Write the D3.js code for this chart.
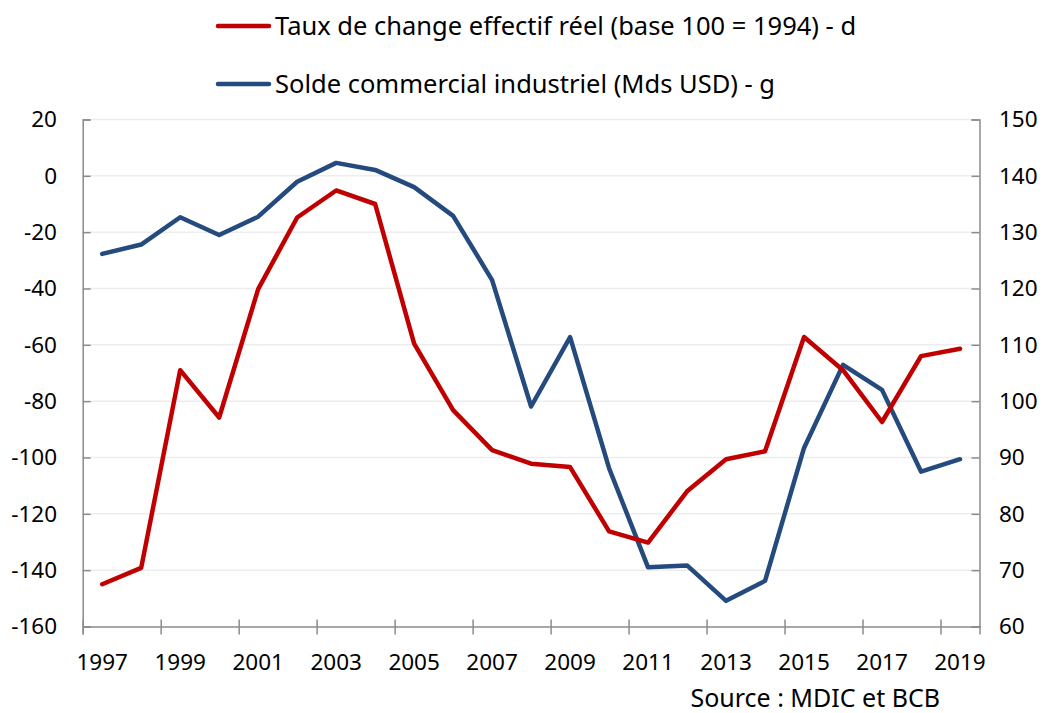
<!DOCTYPE html>
<html>
<head>
<meta charset="utf-8">
<script src="https://cdn.jsdelivr.net/npm/d3@7"></script>
<style>
  html, body { margin: 0; padding: 0; background: #fff; }
  svg { display: block; font-family: "Noto Sans", "Open Sans", sans-serif; }
</style>
</head>
<body>
<svg id="chart" width="1046" height="713"></svg>
<script>
const years = d3.range(1997, 2020).map(String);
const xTickLabels = ["1997","1999","2001","2003","2005","2007","2009","2011","2013","2015","2017","2019"];
const leftTicks = [20, 0, -20, -40, -60, -80, -100, -120, -140, -160];
const rightTicks = [150, 140, 130, 120, 110, 100, 90, 80, 70, 60];

// Solde commercial industriel (Mds USD) - left axis
const solde = [-27.7, -24.4, -14.7, -21.0, -14.5, -2.1, 4.6, 2.1, -4.0, -14.2, -37.0,
               -81.9, -57.3, -103.8, -139.0, -138.3, -150.9, -143.8, -96.6, -67.1, -76.0, -105.0, -100.6];
// Taux de change effectif réel (base 100 = 1994) - right axis
const taux = [67.5, 70.4, 105.5, 97.1, 119.9, 132.6, 137.4, 135.0, 110.2, 98.4, 91.3,
              88.9, 88.3, 76.9, 74.9, 84.0, 89.7, 91.1, 111.4, 105.5, 96.3, 108.0, 109.3];

const legendItems = [
  { label: "Taux de change effectif réel (base 100 = 1994) - d", color: "#C00000" },
  { label: "Solde commercial industriel (Mds USD) - g", color: "#254A7D" }
];
const sourceText = "Source : MDIC et BCB";

const svg = d3.select("#chart");
const pLeft = 82.7, pRight = 979.5, pTop = 119.5, pBottom = 626.5;
const axisColor = "#8C8C8C";
const fontSize = 22.5;

const x = d3.scaleBand().domain(years).range([pLeft, pRight]).padding(0);
const xb = d3.scaleLinear().domain([0, years.length]).range([pLeft, pRight]);
const yL = d3.scaleLinear().domain([-160, 20]).range([pBottom, pTop]);
const yR = d3.scaleLinear().domain([60, 150]).range([pBottom, pTop]);

// gridlines
svg.append("g").selectAll("line").data(leftTicks.filter(d => d !== -160)).join("line")
  .attr("x1", pLeft).attr("x2", pRight)
  .attr("y1", d => yL(d)).attr("y2", d => yL(d))
  .attr("stroke", "#EDEDED").attr("stroke-width", 1.5);

// left axis
const gL = svg.append("g").attr("transform", `translate(${pLeft},0)`)
  .call(d3.axisLeft(yL).tickValues(leftTicks).tickSize(-8).tickFormat(""));
gL.select(".domain").attr("stroke", axisColor).attr("stroke-width", 1.5);
gL.selectAll(".tick line").attr("stroke", axisColor).attr("stroke-width", 1.5);
svg.append("g").selectAll("text").data(leftTicks).join("text")
  .attr("x", 57).attr("y", d => yL(d)).attr("dy", "0.35em")
  .attr("text-anchor", "end").attr("font-size", fontSize).attr("fill", "#000")
  .text(d => d);

// right axis
const gR = svg.append("g").attr("transform", `translate(${pRight},0)`)
  .call(d3.axisRight(yR).tickValues(rightTicks).tickSize(-8).tickFormat(""));
gR.select(".domain").attr("stroke", axisColor).attr("stroke-width", 1.5);
gR.selectAll(".tick line").attr("stroke", axisColor).attr("stroke-width", 1.5);
svg.append("g").selectAll("text").data(rightTicks).join("text")
  .attr("x", 999).attr("y", d => yR(d)).attr("dy", "0.35em")
  .attr("text-anchor", "start").attr("font-size", fontSize).attr("fill", "#000")
  .text(d => d);

// bottom axis
const gB = svg.append("g").attr("transform", `translate(0,${pBottom})`)
  .call(d3.axisBottom(xb).tickValues(d3.range(0, years.length, 2)).tickSize(8).tickFormat(""));
gB.select(".domain").attr("stroke", axisColor).attr("stroke-width", 1.5);
gB.selectAll(".tick line").attr("stroke", axisColor).attr("stroke-width", 1.5).attr("y1", -7);
svg.append("g").selectAll("text").data(xTickLabels).join("text")
  .attr("x", d => x(d) + x.bandwidth() / 2).attr("y", 662.5).attr("dy", "0.35em")
  .attr("text-anchor", "middle").attr("font-size", fontSize).attr("fill", "#000")
  .text(d => d);

// lines
const lineL = d3.line().x((d, i) => x(years[i]) + x.bandwidth() / 2).y(d => yL(d));
const lineR = d3.line().x((d, i) => x(years[i]) + x.bandwidth() / 2).y(d => yR(d));
svg.append("path").datum(solde).attr("d", lineL)
  .attr("fill", "none").attr("stroke", legendItems[1].color).attr("stroke-width", 4.5)
  .attr("stroke-linejoin", "round").attr("stroke-linecap", "round");
svg.append("path").datum(taux).attr("d", lineR)
  .attr("fill", "none").attr("stroke", legendItems[0].color).attr("stroke-width", 4.5)
  .attr("stroke-linejoin", "round").attr("stroke-linecap", "round");

// legend
const lg = svg.append("g").selectAll("g").data(legendItems).join("g")
  .attr("transform", (d, i) => `translate(0,${26 + i * 58})`);
lg.append("line").attr("x1", 218).attr("x2", 269).attr("y1", 0).attr("y2", 0)
  .attr("stroke", d => d.color).attr("stroke-width", 4.5).attr("stroke-linecap", "round");
lg.append("text").attr("x", 275).attr("y", 0).attr("dy", "0.35em")
  .attr("font-size", 25.5).attr("fill", "#000").text(d => d.label);

// source
svg.append("text").attr("x", 940).attr("y", 706.5)
  .attr("text-anchor", "end").attr("font-size", 25).attr("fill", "#000").text(sourceText);
</script>
</body>
</html>
